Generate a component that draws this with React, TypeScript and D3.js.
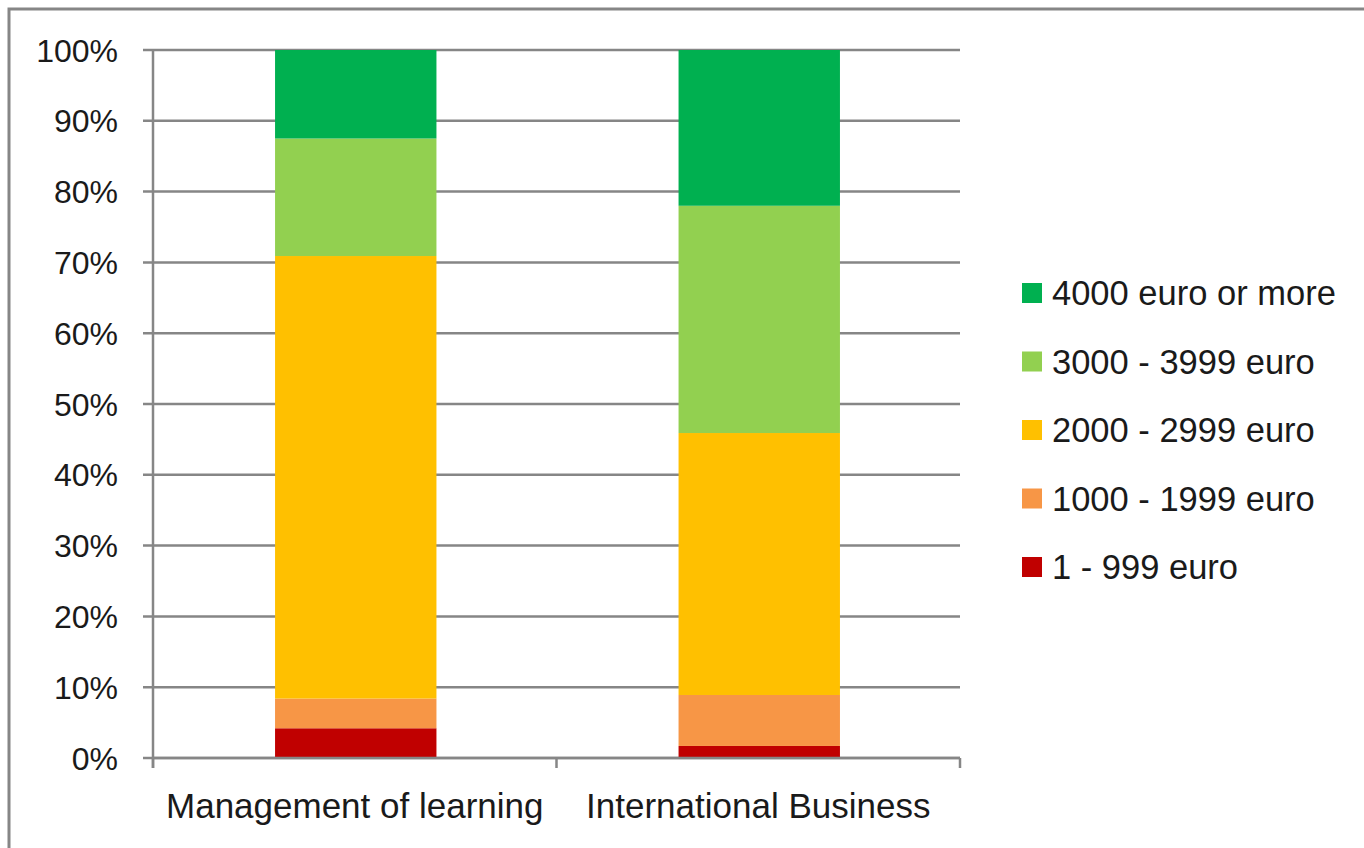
import React from "react";
import * as d3 from "d3";

const categories = ["Management of learning", "International Business"];
const seriesNames = ["1 - 999 euro", "1000 - 1999 euro", "2000 - 2999 euro", "3000 - 3999 euro", "4000 euro or more"];
const seriesColors = ["#C00000", "#F79646", "#FFC000", "#92D050", "#00B050"];
// percentages per category, in series order
const managementValues = [4.2, 4.2, 62.5, 16.6, 12.5];
const businessValues = [1.7, 7.2, 37.0, 32.1, 22.0];
const yTicks = [0, 10, 20, 30, 40, 50, 60, 70, 80, 90, 100];

const W = 1364;
const H = 848;
const left = 153;
const right = 960;
const top = 50;
const bottom = 758;
const FONT = "'Liberation Sans', Arial, sans-serif";
const AXIS = "#868686";
const TEXT = "#1a1a1a";

export default function App() {
  const rows = categories.map((c, i) => {
    const vals = i === 0 ? managementValues : businessValues;
    const o: any = { cat: c };
    seriesNames.forEach((s, j) => (o[s] = vals[j]));
    return o;
  });
  const stack = d3.stack().keys(seriesNames)(rows as any);
  const x = d3.scaleBand().domain(categories).range([left, right]).paddingInner(0.6).paddingOuter(0.3);
  const y = d3.scaleLinear().domain([0, 100]).range([bottom, top]);
  const step = (right - left) / categories.length;
  const catTicks = d3.range(categories.length + 1).map((i) => left + i * step);
  const legendY = d3.scaleLinear().domain([0, 4]).range([293, 567]);

  return (
    <svg width={W} height={H} style={{ position: "absolute", left: 0, top: 0, background: "#fff" }}>
      <rect x={9} y={9} width={1500} height={1000} fill="#fff" stroke={AXIS} strokeWidth={3} />
      {yTicks.map((t) => (
        <g key={t}>
          <line x1={left - 10} x2={right} y1={y(t)} y2={y(t)} stroke={AXIS} strokeWidth={2.5} />
          <text x={118} y={y(t)} dy="0.36em" textAnchor="end" fontFamily={FONT} fontSize={32} fill={TEXT}>
            {t}%
          </text>
        </g>
      ))}
      {stack.map((layer, j) => (
        <g key={seriesNames[j]} fill={seriesColors[j]}>
          {layer.map((d: any, i: number) => (
            <rect
              key={i}
              x={(x(categories[i]) as number) + 1}
              width={x.bandwidth()}
              y={y(d[1])}
              height={y(d[0]) - y(d[1])}
            />
          ))}
        </g>
      ))}
      <line x1={left} x2={left} y1={top} y2={bottom + 10} stroke={AXIS} strokeWidth={2.5} />
      <line x1={left} x2={right} y1={bottom} y2={bottom} stroke={AXIS} strokeWidth={2.5} />
      {catTicks.map((cx, i) => (
        <line key={i} x1={cx} x2={cx} y1={bottom} y2={bottom + 10} stroke={AXIS} strokeWidth={2.5} />
      ))}
      {categories.map((c) => (
        <text
          key={c}
          x={(x(c) as number) + x.bandwidth() / 2}
          y={818}
          textAnchor="middle"
          fontFamily={FONT}
          fontSize={35}
          fill={TEXT}
        >
          {c}
        </text>
      ))}
      {seriesNames
        .slice()
        .reverse()
        .map((s, k) => {
          const j = seriesNames.length - 1 - k;
          const cy = legendY(k);
          return (
            <g key={s}>
              <rect x={1022} y={cy - 10} width={20} height={20} fill={seriesColors[j]} />
              <text x={1052} y={cy} dy="0.36em" fontFamily={FONT} fontSize={34.5} fill={TEXT}>
                {s}
              </text>
            </g>
          );
        })}
    </svg>
  );
}
